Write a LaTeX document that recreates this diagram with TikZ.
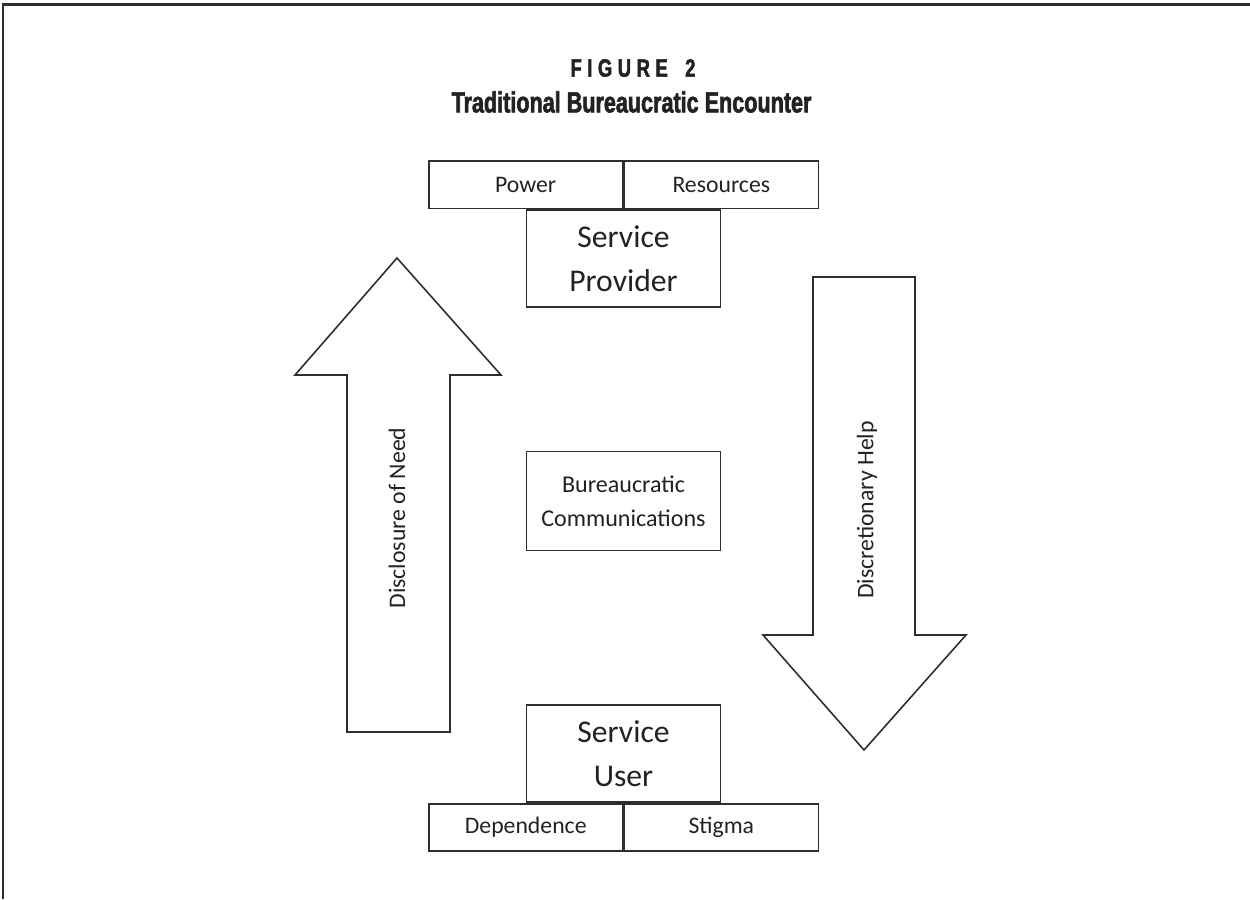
\documentclass[tikz,border=0pt]{standalone}
\usepackage{fontspec}
\usepackage{tikz}
\usetikzlibrary{positioning}
\setmainfont{Carlito}
\newfontfamily\headfont[FakeStretch=0.74, FakeBold=2]{Liberation Sans}
\definecolor{figink}{HTML}{222222}
\definecolor{figline}{HTML}{2E2E2E}

\begin{document}
\begin{tikzpicture}[
  node distance=2.86cm,
  tag/.style={rectangle, draw=figline, line width=0.9pt, text=figink,
              minimum width=3.88cm, minimum height=0.95cm, inner sep=0pt,
              font=\fontsize{13.5}{16}\selectfont},
  actor/.style={rectangle, draw=figline, line width=0.9pt, text=figink,
                minimum width=3.88cm, minimum height=1.94cm, inner sep=0pt,
                align=center, font=\fontsize{18}{25}\selectfont},
  midbox/.style={actor, font=\fontsize{13.7}{19.3}\selectfont, minimum height=1.98cm},
  bigarrow/.style={draw=figline, line width=0.9pt, line join=miter, fill=white},
  flowlbl/.style={rotate=90, text=figink, font=\fontsize{13.5}{16}\selectfont},
]
  \useasboundingbox (0,0) rectangle (25,-17.98);
  % page frame, open at right and bottom
  \draw[line width=1.7pt, figline] (0.06,-17.98) -- (0.06,-0.09) -- (25,-0.09);

  % heading
  \node[text=figink] (fignum) at (12.66,-1.36)
    {\headfont\bfseries\fontsize{14.2}{16}\selectfont\addfontfeature{LetterSpace=22}FIGURE\hspace{0.7em}2};
  \node[text=figink] (figtitle) at (12.63,-2.04)
    {\headfont\bfseries\fontsize{16.6}{19}\selectfont Traditional Bureaucratic Encounter};

  % the two parties and what sits with them
  \node[actor] (provider) at (12.47,-5.17) {Service\\Provider};
  \node[tag, above left=0pt of provider.north] (power) {Power};
  \node[tag, right=0pt of power] (resources) {Resources};

  \node[midbox, below=of provider] (comms) {Bureaucratic\\Communications};

  \node[actor, below=3.06cm of comms] (user) {Service\\User};
  \node[tag, below left=0pt of user.south] (dependence) {Dependence};
  \node[tag, right=0pt of dependence] (stigma) {Stigma};

  % block arrows
  \draw[bigarrow] (6.94,-14.64) -- (6.94,-7.50) -- (5.90,-7.50) -- (7.94,-5.16)
    -- (10.02,-7.50) -- (9.00,-7.50) -- (9.00,-14.64) -- cycle;
  \draw[bigarrow] (16.26,-5.54) -- (16.26,-12.70) -- (15.26,-12.70) -- (17.28,-15.00)
    -- (19.32,-12.70) -- (18.30,-12.70) -- (18.30,-5.54) -- cycle;
  \node[flowlbl] (disclosure) at (7.94,-10.36) {Disclosure of Need};
  \node[flowlbl] (help) at (17.34,-10.20) {Discretionary Help};
\end{tikzpicture}
\end{document}
